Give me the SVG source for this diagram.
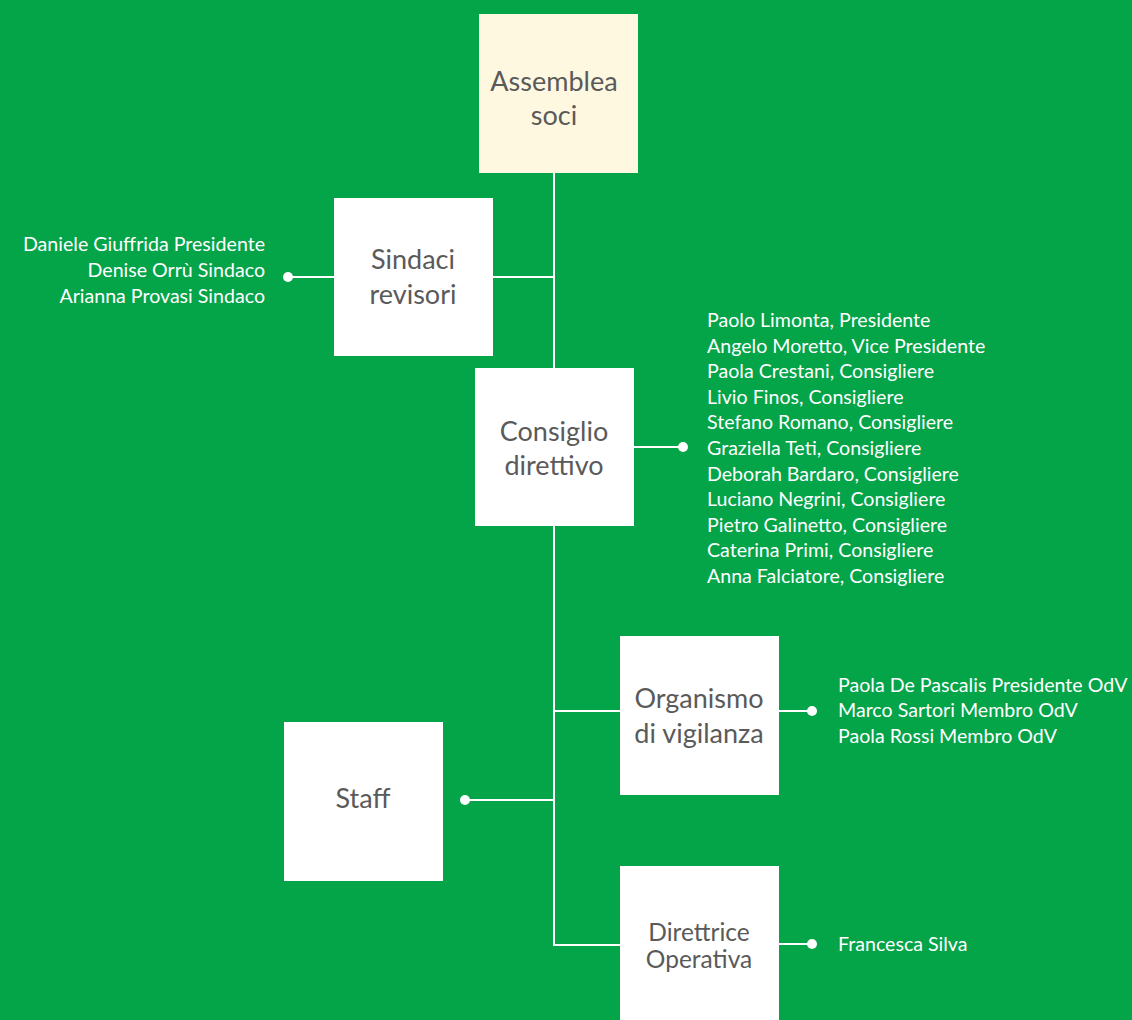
<svg xmlns="http://www.w3.org/2000/svg" width="1132" height="1020" viewBox="0 0 1132 1020">
<style>
.box{fill:#ffffff}
.bt{font-family:Lato,"Open Sans",sans-serif;font-size:27px;fill:#5a5a5a;text-anchor:middle}
.nm{font-family:Lato,"Open Sans",sans-serif;font-size:19.6px;fill:#ffffff}
.ln{stroke:#ffffff;stroke-width:2;fill:none}
.dot{fill:#ffffff}
</style>
<rect x="0" y="0" width="1132" height="1020" fill="#04a449"/>
<g id="connectors">
<path class="ln" d="M554 173 V945 H620"/>
<path class="ln" d="M493 277 H554"/>
<path class="ln" d="M334 277 H288"/>
<circle class="dot" cx="288" cy="277" r="5"/>
<path class="ln" d="M634 447 H683"/>
<circle class="dot" cx="683" cy="447" r="5"/>
<path class="ln" d="M554 711 H620"/>
<path class="ln" d="M779 711 H812"/>
<circle class="dot" cx="812" cy="711" r="5"/>
<path class="ln" d="M554 800 H465"/>
<circle class="dot" cx="465" cy="800" r="5"/>
<path class="ln" d="M779 944 H812"/>
<circle class="dot" cx="812" cy="944" r="5"/>
</g>
<g id="assemblea">
<rect x="479" y="14" width="159" height="159" fill="#fef8e1"/>
<text class="bt" x="554" y="91">Assemblea</text>
<text class="bt" x="554" y="125">soci</text>
</g>
<g id="sindaci">
<rect class="box" x="334" y="198" width="159" height="158"/>
<text class="bt" x="413" y="269">Sindaci</text>
<text class="bt" x="413" y="304">revisori</text>
<text class="nm" text-anchor="end" x="265" y="251">Daniele Giuffrida Presidente</text>
<text class="nm" text-anchor="end" x="265" y="277">Denise Orrù Sindaco</text>
<text class="nm" text-anchor="end" x="265" y="303">Arianna Provasi Sindaco</text>
</g>
<g id="consiglio">
<rect class="box" x="475" y="368" width="159" height="158"/>
<text class="bt" x="554" y="441">Consiglio</text>
<text class="bt" x="554" y="475">direttivo</text>
<text class="nm" x="707" y="327">Paolo Limonta, Presidente</text>
<text class="nm" x="707" y="353">Angelo Moretto, Vice Presidente</text>
<text class="nm" x="707" y="378">Paola Crestani, Consigliere</text>
<text class="nm" x="707" y="404">Livio Finos, Consigliere</text>
<text class="nm" x="707" y="429">Stefano Romano, Consigliere</text>
<text class="nm" x="707" y="455">Graziella Teti, Consigliere</text>
<text class="nm" x="707" y="481">Deborah Bardaro, Consigliere</text>
<text class="nm" x="707" y="506">Luciano Negrini, Consigliere</text>
<text class="nm" x="707" y="532">Pietro Galinetto, Consigliere</text>
<text class="nm" x="707" y="557">Caterina Primi, Consigliere</text>
<text class="nm" x="707" y="583">Anna Falciatore, Consigliere</text>
</g>
<g id="organismo">
<rect class="box" x="620" y="636" width="159" height="159"/>
<text class="bt" x="699" y="708">Organismo</text>
<text class="bt" x="699" y="743">di vigilanza</text>
<text class="nm" x="838" y="692">Paola De Pascalis Presidente OdV</text>
<text class="nm" x="838" y="717">Marco Sartori Membro OdV</text>
<text class="nm" x="838" y="743">Paola Rossi Membro OdV</text>
</g>
<g id="staff">
<rect class="box" x="284" y="722" width="159" height="159"/>
<text class="bt" x="363" y="808">Staff</text>
</g>
<g id="direttrice">
<rect class="box" x="620" y="866" width="159" height="160"/>
<text class="bt" style="font-size:24.5px" x="699" y="941">Direttrice</text>
<text class="bt" style="font-size:24.5px" x="699" y="968">Operativa</text>
<text class="nm" x="838" y="951">Francesca Silva</text>
</g>
</svg>
